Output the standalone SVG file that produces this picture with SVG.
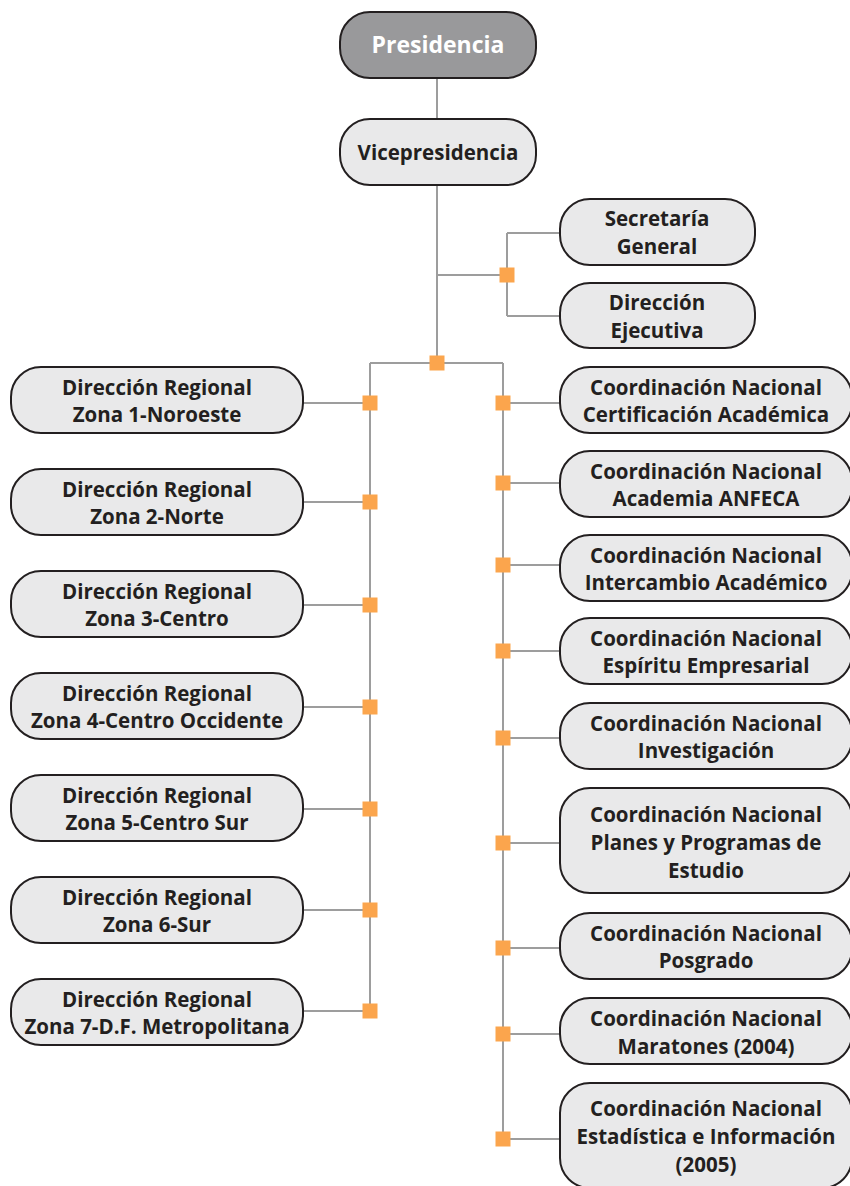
<svg xmlns="http://www.w3.org/2000/svg" width="850" height="1186" viewBox="0 0 850 1186">
<style>
.box{fill:#e9e9ea;stroke:#231f20;stroke-width:2}
.top{fill:#99999b;stroke:#231f20;stroke-width:2}
.t{font-family:"Open Sans",Lato,sans-serif;font-weight:bold;font-size:20.5px;fill:#231f20;text-anchor:middle}
.tw{font-family:"Open Sans",Lato,sans-serif;font-weight:bold;font-size:23px;fill:#ffffff;text-anchor:middle}
.c{fill:none;stroke:#9d9d9d;stroke-width:2}
.sq{fill:#fba54d}
</style>
<rect width="850" height="1186" fill="#ffffff"/>
<g id="connectors">
<path class="c" d="M437 77V120M437 185V363M437 275H507M507 233V316M507 233H560M507 316H560M370 363H503M370 363V1011M503 363V1139"/>
<path class="c" d="M303 403H370M303 502H370M303 605H370M303 707H370M303 809H370M303 910H370M303 1011H370"/>
<path class="c" d="M503 403H560M503 483H560M503 565H560M503 651H560M503 738H560M503 843H560M503 948H560M503 1034H560M503 1139H560"/>
<rect class="sq" x="499.5" y="267.5" width="15" height="15"/>
<rect class="sq" x="429.5" y="355.5" width="15" height="15"/>
<rect class="sq" x="362.5" y="395.5" width="15" height="15"/>
<rect class="sq" x="362.5" y="494.5" width="15" height="15"/>
<rect class="sq" x="362.5" y="597.5" width="15" height="15"/>
<rect class="sq" x="362.5" y="699.5" width="15" height="15"/>
<rect class="sq" x="362.5" y="801.5" width="15" height="15"/>
<rect class="sq" x="362.5" y="902.5" width="15" height="15"/>
<rect class="sq" x="362.5" y="1003.5" width="15" height="15"/>
<rect class="sq" x="495.5" y="395.5" width="15" height="15"/>
<rect class="sq" x="495.5" y="475.5" width="15" height="15"/>
<rect class="sq" x="495.5" y="557.5" width="15" height="15"/>
<rect class="sq" x="495.5" y="643.5" width="15" height="15"/>
<rect class="sq" x="495.5" y="730.5" width="15" height="15"/>
<rect class="sq" x="495.5" y="835.5" width="15" height="15"/>
<rect class="sq" x="495.5" y="940.5" width="15" height="15"/>
<rect class="sq" x="495.5" y="1026.5" width="15" height="15"/>
<rect class="sq" x="495.5" y="1131.5" width="15" height="15"/>
</g>
<g id="presidencia"><rect class="top" x="340" y="12" width="196" height="66" rx="30"/><text class="tw" x="438" y="53">Presidencia</text></g>
<g id="vicepresidencia"><rect class="box" x="340" y="119" width="196" height="66" rx="30"/><text class="t" x="438" y="159.5">Vicepresidencia</text></g>
<g id="secretaria"><rect class="box" x="560" y="199" width="195" height="66" rx="30"/><text class="t" x="657" y="225.5">Secretaría</text><text class="t" x="657" y="253.5">General</text></g>
<g id="direccion-ejecutiva"><rect class="box" x="560" y="283" width="195" height="65" rx="30"/><text class="t" x="657" y="309.5">Dirección</text><text class="t" x="657" y="337.5">Ejecutiva</text></g>
<g id="zona1"><rect class="box" x="11" y="367" width="292" height="66" rx="30"/><text class="t" x="157" y="394.5">Dirección Regional</text><text class="t" x="157" y="422">Zona 1-Noroeste</text></g>
<g id="zona2"><rect class="box" x="11" y="469" width="292" height="66" rx="30"/><text class="t" x="157" y="496.5">Dirección Regional</text><text class="t" x="157" y="524">Zona 2-Norte</text></g>
<g id="zona3"><rect class="box" x="11" y="571" width="292" height="66" rx="30"/><text class="t" x="157" y="598.5">Dirección Regional</text><text class="t" x="157" y="626">Zona 3-Centro</text></g>
<g id="zona4"><rect class="box" x="11" y="673" width="292" height="66" rx="30"/><text class="t" x="157" y="700.5">Dirección Regional</text><text class="t" x="157" y="728">Zona 4-Centro Occidente</text></g>
<g id="zona5"><rect class="box" x="11" y="775" width="292" height="66" rx="30"/><text class="t" x="157" y="802.5">Dirección Regional</text><text class="t" x="157" y="830">Zona 5-Centro Sur</text></g>
<g id="zona6"><rect class="box" x="11" y="877" width="292" height="66" rx="30"/><text class="t" x="157" y="904.5">Dirección Regional</text><text class="t" x="157" y="932">Zona 6-Sur</text></g>
<g id="zona7"><rect class="box" x="11" y="979" width="292" height="66" rx="30"/><text class="t" x="157" y="1006.5">Dirección Regional</text><text class="t" x="157" y="1034">Zona 7-D.F. Metropolitana</text></g>
<g id="cn-certificacion"><rect class="box" x="560" y="367" width="292" height="66" rx="30"/><text class="t" x="706" y="394.5">Coordinación Nacional</text><text class="t" x="706" y="422">Certificación Académica</text></g>
<g id="cn-anfeca"><rect class="box" x="560" y="451" width="292" height="66" rx="30"/><text class="t" x="706" y="478.5">Coordinación Nacional</text><text class="t" x="706" y="506">Academia ANFECA</text></g>
<g id="cn-intercambio"><rect class="box" x="560" y="535" width="292" height="66" rx="30"/><text class="t" x="706" y="562.5">Coordinación Nacional</text><text class="t" x="706" y="590">Intercambio Académico</text></g>
<g id="cn-espiritu"><rect class="box" x="560" y="618" width="292" height="66" rx="30"/><text class="t" x="706" y="645.5">Coordinación Nacional</text><text class="t" x="706" y="673">Espíritu Empresarial</text></g>
<g id="cn-investigacion"><rect class="box" x="560" y="703" width="292" height="66" rx="30"/><text class="t" x="706" y="730.5">Coordinación Nacional</text><text class="t" x="706" y="758">Investigación</text></g>
<g id="cn-planes"><rect class="box" x="560" y="788" width="292" height="105" rx="30"/><text class="t" x="706" y="821.5">Coordinación Nacional</text><text class="t" x="706" y="849.5">Planes y Programas de</text><text class="t" x="706" y="877.5">Estudio</text></g>
<g id="cn-posgrado"><rect class="box" x="560" y="913" width="292" height="66" rx="30"/><text class="t" x="706" y="940.5">Coordinación Nacional</text><text class="t" x="706" y="968">Posgrado</text></g>
<g id="cn-maratones"><rect class="box" x="560" y="998" width="292" height="66" rx="30"/><text class="t" x="706" y="1026">Coordinación Nacional</text><text class="t" x="706" y="1054">Maratones (2004)</text></g>
<g id="cn-estadistica"><rect class="box" x="560" y="1083" width="292" height="105" rx="30"/><text class="t" x="706" y="1116">Coordinación Nacional</text><text class="t" x="706" y="1144">Estadística e Información</text><text class="t" x="706" y="1172">(2005)</text></g>
</svg>
